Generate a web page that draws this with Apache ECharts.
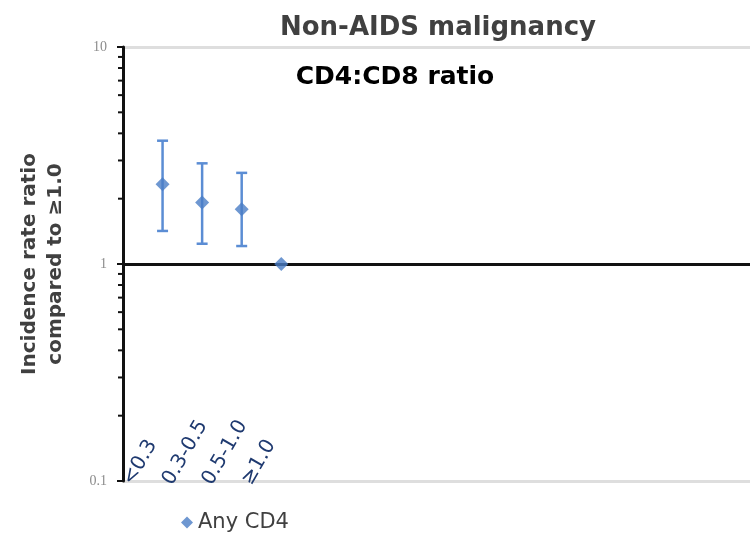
<!DOCTYPE html>
<html>
<head>
<meta charset="utf-8">
<title>Non-AIDS malignancy</title>
<script src="https://cdn.jsdelivr.net/npm/echarts@6/dist/echarts.min.js"></script>
<style>
  html, body { margin: 0; padding: 0; background: #ffffff; }
  #chart { width: 750px; height: 533px; }
</style>
</head>
<body>
<div id="chart"></div>
<script>
// CD4:CD8 ratio categories and incidence rate ratios (reference group >=1.0)
const categories = ['<0.3', '0.3-0.5', '0.5-1.0', '≥1.0'];
const irr = [2.33, 1.92, 1.79, 1.0];
const lowerCI = [1.42, 1.24, 1.21, null];
const upperCI = [3.70, 2.91, 2.63, null];
const seriesName = 'Any CD4';

// log axis range and the 2..9 minor tick values of each decade
const yMin = 0.1;
const yMax = 10;
const minorTickValues = [0.2, 0.3, 0.4, 0.5, 0.6, 0.7, 0.8, 0.9, 2, 3, 4, 5, 6, 7, 8, 9];

// the category axis is wide: a leading empty slot, then the ratio groups, then blank slots
const slotCount = 17;
const dataSlots = [''].concat(categories);
while (dataSlots.length < slotCount) dataSlots.push('');
const labelSlots = categories.slice();
while (labelSlots.length < slotCount) labelSlots.push('');

const pointData = irr.map((v, i) => [i + 1, v]);
const ciData = [];
categories.forEach((c, i) => {
  if (lowerCI[i] != null) ciData.push([i + 1, lowerCI[i], upperCI[i]]);
});
const minorData = minorTickValues.map(v => [0, v]);

const chart = echarts.init(document.getElementById('chart'), null, { renderer: 'canvas' });

const option = {
  backgroundColor: '#ffffff',
  animation: false,
  title: [
    {
      text: 'Non-AIDS malignancy',
      left: 433,
      top: 10,
      textAlign: 'center',
      textStyle: { fontFamily: 'DejaVu Sans', fontWeight: 'bold', fontSize: 26, color: '#404040' }
    },
    {
      text: 'CD4:CD8 ratio',
      left: 390,
      top: 60,
      textAlign: 'center',
      textStyle: { fontFamily: 'DejaVu Sans', fontWeight: 'bold', fontSize: 25, color: '#000000' }
    }
  ],
  legend: {
    data: [seriesName],
    left: 176,
    top: 507,
    icon: 'diamond',
    itemWidth: 12,
    itemHeight: 12,
    itemGap: 10,
    textStyle: { fontFamily: 'DejaVu Sans', fontSize: 21, color: '#404040' }
  },
  grid: { left: 123, right: -6, top: 47, bottom: 52, containLabel: false, outerBoundsMode: 'none' },
  xAxis: [
    {
      type: 'category',
      data: dataSlots,
      boundaryGap: false,
      axisLine: { show: false },
      axisTick: { show: false },
      axisLabel: { show: false },
      splitLine: { show: false }
    },
    {
      type: 'category',
      data: labelSlots,
      boundaryGap: false,
      position: 'bottom',
      axisLine: { show: false },
      axisTick: { show: false },
      splitLine: { show: false },
      axisLabel: {
        inside: true,
        rotate: 60,
        margin: -11,
        padding: [0, 0, 0, 10],
        interval: 0,
        fontFamily: 'DejaVu Sans',
        fontSize: 20,
        color: '#1f3a70'
      }
    }
  ],
  yAxis: {
    type: 'log',
    logBase: 10,
    min: yMin,
    max: yMax,
    name: 'Incidence rate ratio\ncompared to ≥1.0',
    nameLocation: 'middle',
    nameRotate: 90,
    nameGap: 54,
    nameTextStyle: {
      fontFamily: 'DejaVu Sans', fontWeight: 'bold', fontSize: 20, color: '#404040', lineHeight: 26
    },
    axisLine: { show: true, lineStyle: { color: '#111111', width: 3 } },
    axisTick: { show: true, length: 6, lineStyle: { color: '#111111', width: 2 } },
    axisLabel: {
      margin: 16,
      fontFamily: 'Liberation Serif',
      fontSize: 14,
      color: '#8c8c8c',
      formatter: v => String(v)
    },
    splitLine: { show: true, lineStyle: { color: '#dedede', width: 3 } }
  },
  series: [
    {
      // minor ticks at 2..9 of each decade on the log axis
      type: 'custom',
      silent: true,
      xAxisIndex: 0,
      clip: false,
      z: 3,
      data: minorData,
      renderItem: (params, api) => {
        const p = api.coord([api.value(0), api.value(1)]);
        return {
          type: 'line',
          shape: { x1: p[0] - 5, y1: p[1], x2: p[0], y2: p[1] },
          style: { stroke: '#111111', lineWidth: 2 }
        };
      },
      markLine: {
        silent: true,
        symbol: ['none', 'none'],
        label: { show: false },
        lineStyle: { color: '#111111', width: 3, type: 'solid' },
        data: [{ yAxis: 1 }]
      }
    },
    {
      // 95% confidence intervals
      type: 'custom',
      name: seriesName + ' CI',
      silent: true,
      xAxisIndex: 0,
      z: 4,
      data: ciData,
      renderItem: (params, api) => {
        const lo = api.coord([api.value(0), api.value(1)]);
        const hi = api.coord([api.value(0), api.value(2)]);
        const half = 5.5;
        const style = { stroke: '#5b8dd4', lineWidth: 2.5 };
        return {
          type: 'group',
          children: [
            { type: 'line', shape: { x1: lo[0], y1: lo[1], x2: hi[0], y2: hi[1] }, style },
            { type: 'line', shape: { x1: hi[0] - half, y1: hi[1], x2: hi[0] + half, y2: hi[1] }, style },
            { type: 'line', shape: { x1: lo[0] - half, y1: lo[1], x2: lo[0] + half, y2: lo[1] }, style }
          ]
        };
      }
    },
    {
      name: seriesName,
      type: 'scatter',
      xAxisIndex: 0,
      z: 5,
      symbol: 'diamond',
      symbolSize: [14, 14],
      itemStyle: { color: '#4a7dc6' },
      data: pointData
    }
  ]
};

chart.setOption(option);
</script>
</body>
</html>
